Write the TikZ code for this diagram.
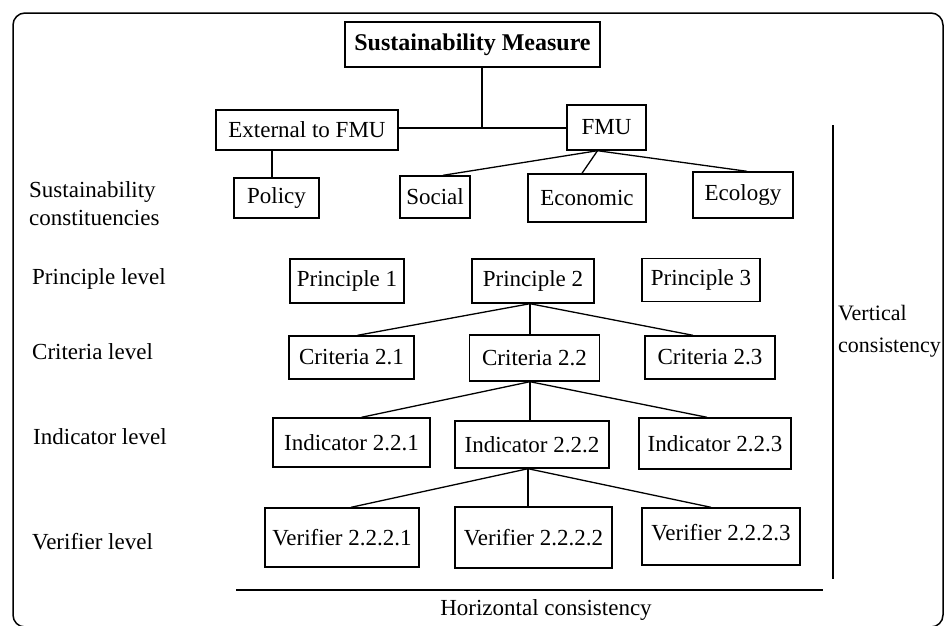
\documentclass[tikz,border=0pt]{standalone}
\usepackage{fontspec}
\setmainfont{Liberation Serif}
\usetikzlibrary{calc}
\begin{document}
\begin{tikzpicture}[x=1pt,y=-1pt,
  box/.style={draw, line width=1.4pt, inner sep=0pt, font=\fontsize{23}{27}\selectfont},
  conn/.style={line width=1.3pt},
  lbl/.style={anchor=west, inner sep=0pt, font=\fontsize{23}{28}\selectfont, align=left},
  axisline/.style={line width=1.8pt}]
\useasboundingbox (0,0) rectangle (945,625);
\draw[line width=1.5pt, rounded corners=12pt] (13,13) rectangle (943,627);

% top levels
\node[box, font=\fontsize{24}{28}\selectfont\bfseries, minimum width=255pt, minimum height=45pt] (sm) at (472.5,44.5) {Sustainability Measure};
\node[box, minimum width=182pt, minimum height=40pt] (ext) at (307,130) {External to FMU};
\node[box, minimum width=79pt, minimum height=45pt] (fmu) at (606.5,127.5) {FMU};
\node[box, minimum width=85pt, minimum height=40pt] (policy) at (276.5,198) {Policy};
\node[box, minimum width=70pt, minimum height=42pt] (social) at (435,197) {Social};
\node[box, minimum width=118pt, minimum height=48pt] (econ) at (587,198) {Economic};
\node[box, minimum width=100pt, minimum height=46pt] (ecol) at (743,195) {Ecology};

% principles
\node[box, minimum width=114pt, minimum height=44pt] (p1) at (347,281) {Principle 1};
\node[box, minimum width=122pt, minimum height=44pt] (p2) at (533,281) {Principle 2};
\node[box, minimum width=118pt, minimum height=43pt] (p3) at (701,280) {Principle 3};

% criteria
\node[box, minimum width=125pt, minimum height=43pt] (c1) at (351.5,357.5) {Criteria 2.1};
\node[box, minimum width=130pt, minimum height=46pt] (c2) at (534.5,358) {Criteria 2.2};
\node[box, minimum width=130pt, minimum height=43pt] (c3) at (710,357.5) {Criteria 2.3};

% indicators
\node[box, minimum width=157pt, minimum height=49pt] (i1) at (351.5,442.5) {Indicator 2.2.1};
\node[box, minimum width=154pt, minimum height=47pt] (i2) at (532,444.5) {Indicator 2.2.2};
\node[box, minimum width=152pt, minimum height=51pt] (i3) at (715,443.5) {Indicator 2.2.3};

% verifiers
\node[box, minimum width=154pt, minimum height=59pt] (v1) at (342,537.5) {Verifier 2.2.2.1};
\node[box, minimum width=157pt, minimum height=61pt] (v2) at (533.5,537.5) {Verifier 2.2.2.2};
\node[box, minimum width=158pt, minimum height=57pt] (v3) at (721,536.5) {\raisebox{8pt}{Verifier 2.2.2.3}};

% connectors
\coordinate (j) at (482,128);
\draw[conn] (sm.south -| j) -- (j);
\draw[conn] (ext.east |- j) -- (fmu.west |- j);
\coordinate (pc) at (272,0);
\draw[conn] (ext.south -| pc) -- (policy.north -| pc);

\coordinate (fo) at ($(fmu.south)+(-9,0)$);
\draw[conn] (fo) -- ($(social.north)+(8,0)$);
\draw[conn] (fo) -- ($(econ.north)+(-5,0)$);
\draw[conn] (fo) -- ($(ecol.north)+(4,0)$);

\coordinate (po) at ($(p2.south)+(-3,0)$);
\draw[conn] (po) -- ($(c1.north)+(6,0)$);
\draw[conn] (po) -- (po |- c2.north);
\draw[conn] (po) -- ($(c3.north)+(-17,0)$);

\coordinate (co) at ($(c2.south)+(-4.5,0)$);
\draw[conn] (co) -- ($(i1.north)+(10,0)$);
\draw[conn] (co) -- (co |- i2.north);
\draw[conn] (co) -- ($(i3.north)+(-8,0)$);

\coordinate (io) at ($(i2.south)+(-4,0)$);
\draw[conn] (io) -- ($(v1.north)+(9,0)$);
\draw[conn] (io) -- (io |- v2.north);
\draw[conn] (io) -- ($(v3.north)+(-10,0)$);

% level labels
\node[lbl] (lsc) at (29,204) {Sustainability\\constituencies};
\node[lbl] (lpr) at (32,279) {Principle level};
\node[lbl] (lcr) at (32,352) {Criteria level};
\node[lbl] (lin) at (33,437) {Indicator level};
\node[lbl] (lve) at (32,542) {Verifier level};

% consistency axes
\coordinate (vt) at (833,125);
\coordinate (vb) at (833,579);
\draw[axisline] (vt) -- (vb);
\node[lbl, font=\fontsize{22}{32}\selectfont] (vcons) at (838,331) {Vertical\\consistency};
\coordinate (hl) at (236,590);
\coordinate (hr) at (823,590);
\draw[axisline] (hl) -- (hr);
\node[inner sep=0pt, font=\fontsize{23}{27}\selectfont] (hcons) at (546,610) {Horizontal consistency};
\end{tikzpicture}
\end{document}
